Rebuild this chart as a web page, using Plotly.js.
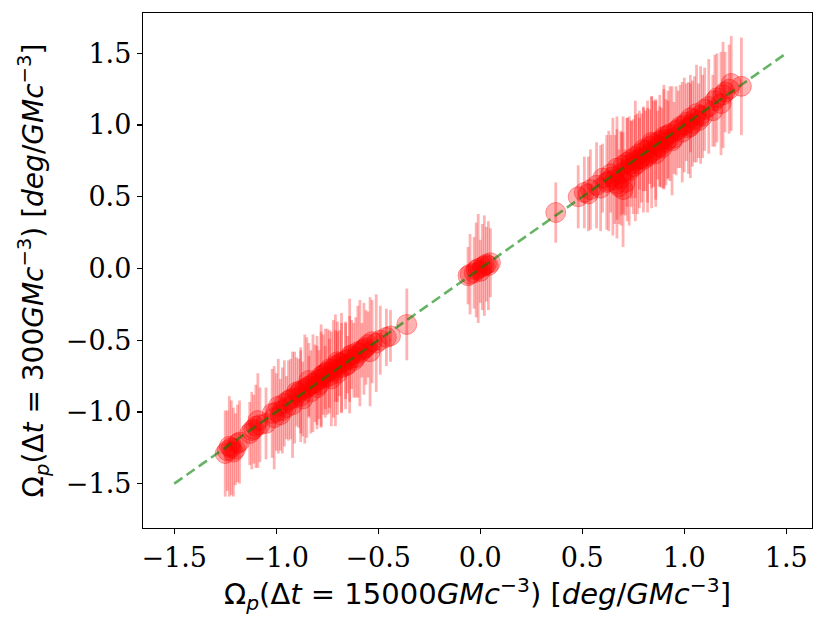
<!DOCTYPE html>
<html>
<head>
<meta charset="utf-8">
<script src="https://cdn.plot.ly/plotly-3.0.1.min.js"></script>
<style>html,body{margin:0;padding:0;background:#fff;}#chart{width:830px;height:628px;}</style>
</head>
<body>
<div id="chart"></div>
<script>
// Negative cluster
const negX = [-1.25,-1.24,-1.22,-1.20,-1.19,-1.13,-1.11,-1.10,-1.08,-1.02,-1.00,-0.99,-0.98,-0.96,-0.95,-0.93,-0.91,-0.89,-0.88,-0.87,-0.85,-0.84,-0.83,-0.81,-0.80,-0.79,-0.78,-0.77,-0.76,-0.75,-0.74,-0.72,-0.71,-0.70,-0.69,-0.68,-0.66,-0.65,-0.64,-0.63,-0.61,-0.60,-0.58,-0.56,-0.55,-0.53,-0.49,-0.46,-0.44,-0.36,
              -1.23,-1.21,-1.18,-1.12,-1.09,-1.05,-1.01,-0.97,-0.94,-0.92,-0.90,-0.88,-0.86,-0.84,-0.82,-0.80,-0.78,-0.76,-0.74,-0.73,-0.71,-0.70,-0.68,-0.66,-0.64,-0.62,-0.59,-0.57,-0.54,-0.51];
const negY = [-1.29,-1.27,-1.25,-1.26,-1.22,-1.15,-1.12,-1.10,-1.09,-1.01,-1.00,-0.96,-1.02,-0.94,-0.97,-0.91,-0.90,-0.87,-0.85,-0.91,-0.83,-0.82,-0.86,-0.80,-0.78,-0.81,-0.77,-0.74,-0.76,-0.72,-0.75,-0.70,-0.68,-0.73,-0.66,-0.69,-0.64,-0.67,-0.63,-0.60,-0.62,-0.58,-0.57,-0.55,-0.53,-0.51,-0.50,-0.48,-0.47,-0.39,
              -1.24,-1.28,-1.21,-1.13,-1.06,-1.08,-1.04,-0.99,-0.92,-0.95,-0.86,-0.89,-0.84,-0.78,-0.80,-0.83,-0.75,-0.73,-0.70,-0.77,-0.71,-0.65,-0.66,-0.68,-0.61,-0.64,-0.59,-0.56,-0.58,-0.52];
const negErr = [0.30,0.28,0.33,0.25,0.27,0.22,0.24,0.29,0.26,0.31,0.27,0.33,0.25,0.30,0.22,0.28,0.32,0.24,0.30,0.26,0.35,0.21,0.29,0.27,0.31,0.24,0.33,0.28,0.22,0.30,0.26,0.34,0.25,0.29,0.23,0.31,0.27,0.20,0.30,0.24,0.28,0.32,0.19,0.26,0.23,0.29,0.24,0.20,0.18,0.25,
                0.35,0.31,0.29,0.27,0.33,0.25,0.36,0.30,0.28,0.37,0.24,0.32,0.38,0.26,0.34,0.29,0.36,0.31,0.27,0.33,0.39,0.28,0.35,0.30,0.40,0.26,0.37,0.32,0.38,0.34];
// Central cluster
const midX = [-0.06,-0.05,-0.03,-0.02,-0.01,0.00,0.01,0.02,0.03,0.04,0.05];
const midY = [-0.05,-0.04,-0.03,-0.01,0.00,-0.02,0.01,0.02,0.03,0.02,0.04];
const midErr = [0.20,0.28,0.25,0.33,0.38,0.22,0.30,0.35,0.26,0.31,0.24];
// Isolated point
const soloX = [0.37];
const soloY = [0.39];
const soloErr = [0.21];
// Positive cluster
const posX = [0.48,0.51,0.54,0.57,0.60,0.62,0.64,0.66,0.67,0.68,0.69,0.70,0.71,0.72,0.73,0.74,0.75,0.76,0.77,0.78,0.79,0.80,0.81,0.82,0.83,0.84,0.85,0.86,0.87,0.88,0.89,0.90,0.91,0.92,0.93,0.95,0.96,0.98,0.99,1.01,1.02,1.03,1.04,1.06,1.07,1.09,1.12,1.14,1.16,1.18,1.20,1.23,1.28,
              0.53,0.59,0.63,0.65,0.67,0.69,0.70,0.72,0.74,0.76,0.78,0.80,0.82,0.84,0.86,0.88,0.90,0.92,0.94,0.97,1.00,1.03,1.05,1.08,1.10,1.15,1.19,1.22];
const posY = [0.50,0.53,0.55,0.58,0.63,0.60,0.66,0.62,0.70,0.57,0.66,0.72,0.60,0.74,0.68,0.76,0.71,0.78,0.73,0.80,0.77,0.76,0.82,0.79,0.85,0.81,0.87,0.83,0.86,0.89,0.84,0.92,0.88,0.90,0.94,0.91,0.96,0.99,0.95,1.02,0.98,1.05,1.01,1.08,1.03,1.06,1.13,1.10,1.19,1.15,1.23,1.29,1.27,
              0.52,0.56,0.61,0.64,0.59,0.63,0.55,0.69,0.73,0.75,0.76,0.83,0.78,0.88,0.80,0.85,0.90,0.93,0.89,0.97,1.00,0.99,1.04,1.07,1.11,1.17,1.21,1.25];
const posErr = [0.22,0.25,0.28,0.30,0.24,0.33,0.27,0.31,0.36,0.26,0.29,0.34,0.23,0.31,0.38,0.27,0.33,0.29,0.35,0.25,0.31,0.37,0.28,0.33,0.26,0.39,0.30,0.35,0.24,0.32,0.28,0.36,0.30,0.27,0.33,0.25,0.31,0.29,0.35,0.27,0.32,0.24,0.30,0.34,0.26,0.29,0.33,0.25,0.31,0.36,0.28,0.33,0.34,
                0.26,0.30,0.35,0.41,0.38,0.33,0.40,0.36,0.30,0.42,0.34,0.29,0.39,0.32,0.37,0.28,0.35,0.31,0.38,0.27,0.33,0.36,0.30,0.34,0.29,0.32,0.37,0.31];
// Reference line
const lineX = [-1.5, 1.5];
const lineY = [-1.5, 1.5];
// Tick values
const tickVals = [-1.5,-1.0,-0.5,0.0,0.5,1.0,1.5];
const tickText = ['\u22121.5','\u22121.0','\u22120.5','0.0','0.5','1.0','1.5'];

const allX = negX.concat(midX, soloX, posX);
const allY = negY.concat(midY, soloY, posY);
const allErr = negErr.concat(midErr, soloErr, posErr);

const red = 'rgba(255,0,0,0.3)';
const traces = [
  {
    x: allX, y: allY, type: 'scatter', mode: 'markers',
    marker: {size: 20, color: red, line: {color: 'rgba(255,0,0,0.35)', width: 1}},
    error_y: {type: 'data', array: allErr, visible: true, color: red, thickness: 2.8, width: 0},
    hoverinfo: 'skip', showlegend: false
  },
  {
    x: lineX, y: lineY, type: 'scatter', mode: 'lines',
    line: {color: 'rgba(0,128,0,0.6)', width: 2.6, dash: '10px,5px'},
    hoverinfo: 'skip', showlegend: false
  }
];

const axisCommon = {
  showgrid: false, zeroline: false, showline: true, mirror: true,
  linecolor: '#000', linewidth: 1.2, ticks: 'outside', ticklen: 5, tickwidth: 1.2, tickcolor: '#000',
  tickvals: tickVals, ticktext: tickText,
  tickfont: {family: 'DejaVu Serif', size: 27, color: '#000'},
  automargin: false
};

const layout = {
  width: 830, height: 628,
  margin: {l: 143, r: 18, t: 13, b: 100},
  paper_bgcolor: '#fff', plot_bgcolor: '#fff',
  showlegend: false,
  xaxis: Object.assign({}, axisCommon, {
    range: [-1.653, 1.626],
    title: {text: '\u03A9<sub><i>p</i></sub>(\u0394<i>t</i> = 15000<i>GMc</i><sup>\u22123</sup>) [<i>deg</i>/<i>GMc</i><sup>\u22123</sup>]',
            font: {family: 'DejaVu Sans', size: 29, color: '#000'}, standoff: 10}
  }),
  yaxis: Object.assign({}, axisCommon, {
    range: [-1.809, 1.781],
    title: {text: '\u03A9<sub><i>p</i></sub>(\u0394<i>t</i> = 300<i>GMc</i><sup>\u22123</sup>) [<i>deg</i>/<i>GMc</i><sup>\u22123</sup>]',
            font: {family: 'DejaVu Sans', size: 28, color: '#000'}, standoff: 14}
  })
};

Plotly.newPlot('chart', traces, layout, {staticPlot: true, displayModeBar: false});
</script>
</body>
</html>
